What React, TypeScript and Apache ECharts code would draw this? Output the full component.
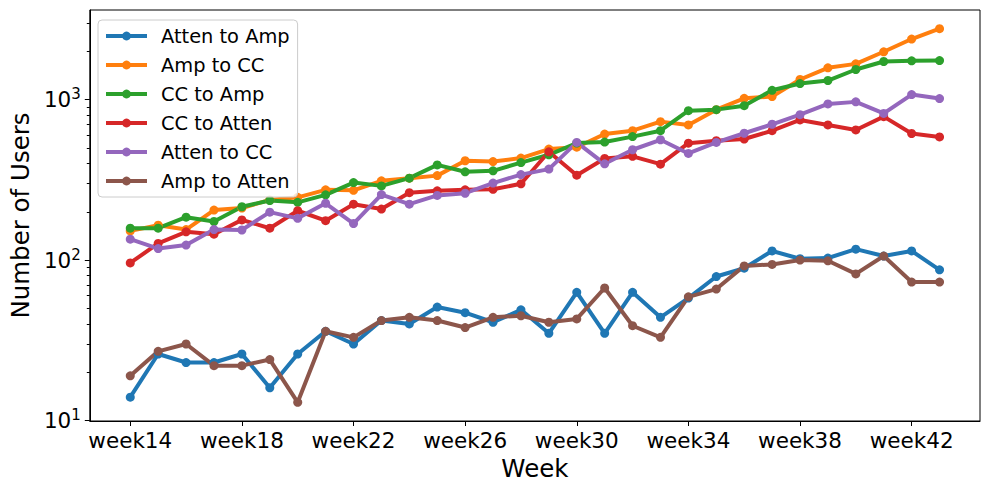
import React, { useEffect, useRef } from "react";
import * as echarts from "echarts";

const weeks = [14, 15, 16, 17, 18, 19, 20, 21, 22, 23, 24, 25, 26, 27, 28, 29, 30, 31, 32, 33, 34, 35, 36, 37, 38, 39, 40, 41, 42, 43];

const seriesNames = ["Atten to Amp", "Amp to CC", "CC to Amp", "CC to Atten", "Atten to CC", "Amp to Atten"];

const attenToAmp = [14, 26, 23, 23, 26, 16, 26, 36, 30, 42, 40, 51, 47, 41, 49, 35, 63, 35, 63, 44, 58, 79, 89, 114, 102, 103, 117, 106, 114, 87];
const ampToCC = [152, 165, 155, 205, 211, 237, 246, 274, 272, 312, 324, 336, 416, 411, 432, 492, 505, 610, 640, 729, 695, 866, 1019, 1044, 1334, 1578, 1670, 1986, 2385, 2767];
const ccToAmp = [158, 158, 185, 174, 215, 235, 229, 255, 304, 290, 324, 392, 355, 360, 405, 453, 536, 544, 588, 640, 853, 866, 917, 1143, 1259, 1315, 1540, 1728, 1745, 1750];
const ccToAtten = [96, 127, 150, 145, 178, 158, 203, 176, 223, 208, 263, 270, 274, 276, 299, 473, 338, 430, 443, 396, 535, 554, 568, 640, 747, 695, 647, 783, 615, 585];
const attenToCC = [135, 118, 124, 155, 154, 199, 182, 226, 169, 256, 223, 253, 261, 302, 341, 369, 541, 398, 487, 562, 462, 541, 617, 702, 806, 940, 968, 820, 1075, 1015];
const ampToAtten = [19, 27, 30, 22, 22, 24, 13, 36, 33, 42, 44, 42, 38, 44, 45, 41, 43, 67, 39, 33, 59, 66, 92, 94, 100, 99, 82, 106, 73, 73];

const seriesValues = [attenToAmp, ampToCC, ccToAmp, ccToAtten, attenToCC, ampToAtten];
const colors = ["#1f77b4", "#ff7f0e", "#2ca02c", "#d62728", "#9467bd", "#8c564b"];

const xTickWeeks = [14, 18, 22, 26, 30, 34, 38, 42];
const yMajorTicks = [10, 100, 1000];
const yMinorTicks = [20, 30, 40, 50, 60, 70, 80, 90, 200, 300, 400, 500, 600, 700, 800, 900, 2000, 3000];

const FONT = "DejaVu Sans";

export default function App() {
  const ref = useRef<HTMLDivElement>(null);

  useEffect(() => {
    if (!ref.current) return;
    const chart = echarts.init(ref.current, undefined, { renderer: "svg" });
    const xMin = 12.55;
    const xMax = 44.45;
    const yMin = 9.94;
    const yMax = 3617;

    const option: any = {
      animation: false,
      backgroundColor: "#ffffff",
      textStyle: { fontFamily: FONT },
      grid: {
        left: 88.5,
        right: 9,
        top: 10,
        bottom: 69,
        show: true,
        borderColor: "#000",
        borderWidth: 1,
        backgroundColor: "transparent",
      },
      legend: {
        orient: "vertical",
        left: 98,
        top: 20,
        padding: [6, 8, 6, 6],
        itemWidth: 41,
        itemHeight: 11,
        itemGap: 9,
        backgroundColor: "rgba(255,255,255,0.8)",
        borderColor: "#cccccc",
        borderWidth: 1,
        borderRadius: 4,
        lineStyle: { width: 4 },
        textStyle: {
          fontFamily: FONT,
          fontSize: 19.4,
          color: "#000",
          lineHeight: 20,
          padding: [0, 0, 0, 9],
        },
        data: seriesNames,
      },
      xAxis: {
        type: "value",
        min: xMin,
        max: xMax,
        name: "Week",
        nameLocation: "middle",
        nameGap: 31,
        nameTextStyle: { fontFamily: FONT, fontSize: 24.5, color: "#000" },
        axisLine: { show: true, lineStyle: { color: "#000", width: 1 } },
        axisTick: { show: true, length: 5, lineStyle: { color: "#000" }, customValues: xTickWeeks },
        axisLabel: {
          fontFamily: FONT,
          fontSize: 21.5,
          color: "#000",
          margin: 8,
          customValues: xTickWeeks,
          formatter: (v: number) => "week" + v,
        },
        splitLine: { show: false },
      },
      yAxis: [
        {
          type: "log",
          logBase: 10,
          min: yMin,
          max: yMax,
          name: "Number of Users",
          nameLocation: "middle",
          nameGap: 55,
          nameTextStyle: { fontFamily: FONT, fontSize: 24.5, color: "#000" },
          axisLine: { show: true, lineStyle: { color: "#000", width: 1 } },
          axisTick: { show: true, length: 5, lineStyle: { color: "#000" }, customValues: yMajorTicks },
          axisLabel: {
            color: "#000",
            margin: 9,
            customValues: yMajorTicks,
            formatter: (v: number) => "{b|10}{s|" + Math.round(Math.log10(v)) + "}",
            rich: {
              b: { fontFamily: FONT, fontSize: 21.5, color: "#000", lineHeight: 26, verticalAlign: "middle" },
              s: { fontFamily: FONT, fontSize: 15, color: "#000", lineHeight: 15, verticalAlign: "top" },
            },
          },
          splitLine: { show: false },
        },
        {
          type: "log",
          logBase: 10,
          min: yMin,
          max: yMax,
          position: "left",
          axisLine: { show: false },
          axisTick: { show: true, length: 3, lineStyle: { color: "#000" }, customValues: yMinorTicks },
          axisLabel: { show: false },
          splitLine: { show: false },
        },
      ],
      series: seriesNames.map((name, i) => ({
        name,
        type: "line",
        yAxisIndex: 0,
        data: weeks.map((w, j) => [w, seriesValues[i][j]]),
        symbol: "circle",
        symbolSize: 9,
        showSymbol: true,
        color: colors[i],
        lineStyle: { width: 4, color: colors[i] },
        itemStyle: { color: colors[i] },
        emphasis: { disabled: true },
      })),
    };

    chart.setOption(option);
    return () => chart.dispose();
  }, []);

  return (
    <div
      ref={ref}
      style={{ position: "absolute", left: 0, top: 0, width: 989, height: 490 }}
    />
  );
}
